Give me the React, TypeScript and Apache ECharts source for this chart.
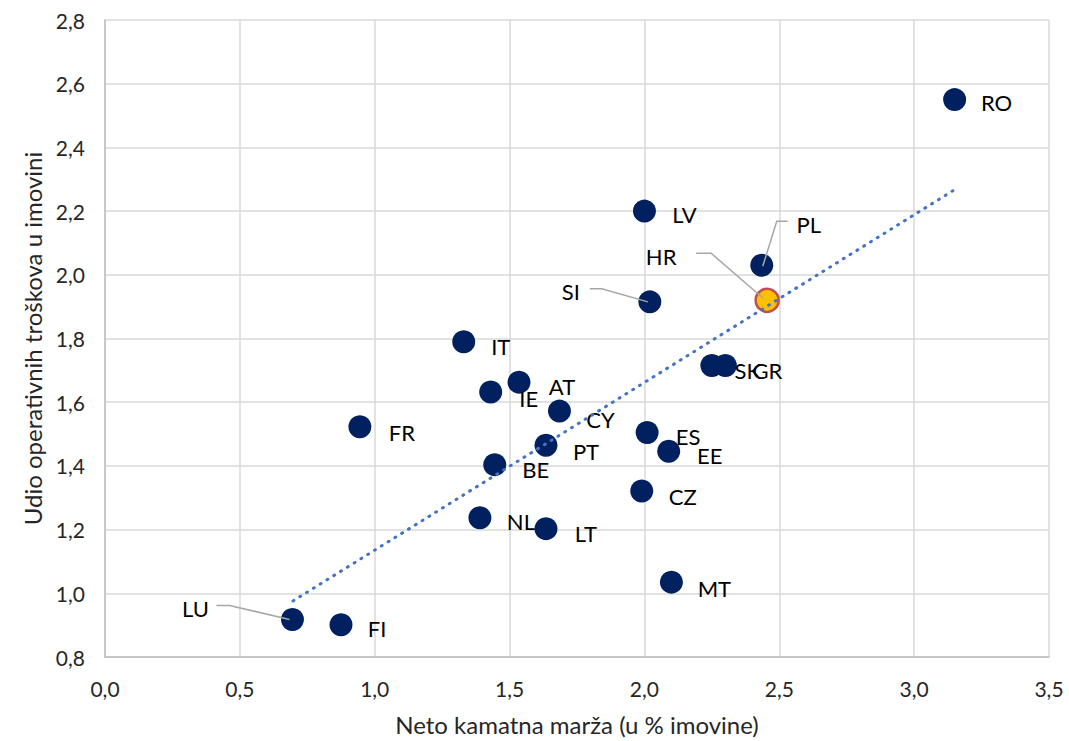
import React, { useEffect, useRef } from "react";
import * as echarts from "echarts";

const countries = ["RO", "LV", "PL", "HR", "SI", "IT", "SK", "GR", "IE", "AT", "CY", "FR", "ES", "PT", "EE", "BE", "CZ", "NL", "LT", "MT", "LU", "FI"];
const netInterestMargin = [3.15, 2.0, 2.435, 2.455, 2.02, 1.33, 2.25, 2.3, 1.43, 1.535, 1.685, 0.945, 2.01, 1.635, 2.09, 1.445, 1.99, 1.39, 1.635, 2.1, 0.695, 0.875];
const costShare = [2.55, 2.2, 2.03, 1.92, 1.915, 1.79, 1.715, 1.715, 1.632, 1.663, 1.572, 1.523, 1.505, 1.465, 1.446, 1.404, 1.321, 1.237, 1.203, 1.035, 0.918, 0.901];
const trendX = [0.697, 3.155];
const trendY = [0.976, 2.27];
const highlighted = "HR";

// label offsets (px) relative to point centre
const labelOffsets: Record<string, [number, number]> = {
  RO: [42, 3], LV: [40, 3], PL: [47, -41], HR: [-106, -44], SI: [-79, -10],
  IT: [37, 5], SK: [36, 5], GR: [42, 5], IE: [38, 6], AT: [43, 4], CY: [41, 8],
  FR: [42, 6], ES: [41, 4], PT: [40, 6], EE: [41, 4], BE: [41, 5], CZ: [41, 5],
  NL: [41, 4], LT: [40, 5], MT: [43, 6], LU: [-97, -11], FI: [36, 4],
};
// leader line vertices (px) relative to point centre
const leaderLines: Record<string, [number, number][]> = {
  PL: [[26, -44], [15, -44], [1, 1]],
  HR: [[-71, -47], [-56, -47], [-4, -2]],
  SI: [[-60, -13], [-48, -13], [-2, 0]],
  LU: [[-76, -14], [-63, -14], [-3, 0]],
};

const fmt = (v: number) => v.toFixed(1).replace(".", ",");
const FONT = "Lato";
const TEXT = "#262626";

export default function App() {
  const ref = useRef<HTMLDivElement>(null);
  useEffect(() => {
    document.body.style.margin = "0";
    const chart = echarts.init(ref.current!, null, { renderer: "svg" });
    const scatterData = countries.map((c, i) => {
      const item: any = { name: c, value: [netInterestMargin[i], costShare[i]] };
      if (c === highlighted) {
        item.itemStyle = { color: "#FFC000", borderColor: "#C0504D", borderWidth: 2.5 };
      }
      return item;
    });
    chart.setOption({
      animation: false,
      textStyle: { fontFamily: FONT },
      grid: { left: 105, right: 20, top: 20, bottom: 84 },
      xAxis: {
        type: "value",
        min: 0,
        max: 3.5,
        interval: 0.5,
        name: "Neto kamatna marža (u % imovine)",
        nameLocation: "middle",
        nameGap: 55,
        nameTextStyle: { fontSize: 24, color: TEXT, fontFamily: FONT },
        axisLine: { show: true, lineStyle: { color: "#BFBFBF", width: 1.5 } },
        axisTick: { show: false },
        axisLabel: { formatter: fmt, fontSize: 21, color: TEXT, margin: 21, fontFamily: FONT },
        splitLine: { show: true, lineStyle: { color: "#D9D9D9", width: 1.5 } },
      },
      yAxis: {
        type: "value",
        min: 0.8,
        max: 2.8,
        interval: 0.2,
        name: "Udio operativnih troškova u imovini",
        nameLocation: "middle",
        nameGap: 61,
        nameTextStyle: { fontSize: 24, color: TEXT, fontFamily: FONT },
        axisLine: { show: true, lineStyle: { color: "#BFBFBF", width: 1.5 } },
        axisTick: { show: false },
        axisLabel: { formatter: fmt, fontSize: 21, color: TEXT, margin: 20, fontFamily: FONT },
        splitLine: { show: true, lineStyle: { color: "#D9D9D9", width: 1.5 } },
      },
      series: [
        {
          type: "scatter",
          symbolSize: 23,
          itemStyle: { color: "#002060", opacity: 1 },
          data: scatterData,
          label: {
            show: true,
            formatter: (p: any) => p.name,
            fontSize: 22,
            color: "#000000",
            fontFamily: FONT,
            position: "inside",
          },
          labelLayout: (p: any) => {
            const name = countries[p.dataIndex];
            const off = labelOffsets[name] || [40, 4];
            return {
              x: p.rect.x + p.rect.width / 2 + off[0],
              y: p.rect.y + p.rect.height / 2 + off[1],
              align: "center",
              verticalAlign: "middle",
            };
          },
          z: 2,
        },
        {
          type: "line",
          data: trendX.map((x, i) => [x, trendY[i]]),
          symbol: "none",
          lineStyle: { color: "#4472C4", width: 3, type: [1, 7], cap: "round" },
          z: 3,
          silent: true,
        },
      ],
    });
    const graphics = Object.keys(leaderLines).map((name) => {
      const i = countries.indexOf(name);
      const p = chart.convertToPixel({ gridIndex: 0 }, [netInterestMargin[i], costShare[i]]) as number[];
      return {
        type: "polyline",
        z: 10,
        silent: true,
        shape: { points: leaderLines[name].map(([dx, dy]) => [p[0] + dx, p[1] + dy]) },
        style: { stroke: "#A6A6A6", lineWidth: 1.5, fill: "none" },
      };
    });
    chart.setOption({ graphic: graphics });
    return () => chart.dispose();
  }, []);
  return <div ref={ref} style={{ width: 1069, height: 741 }} />;
}
